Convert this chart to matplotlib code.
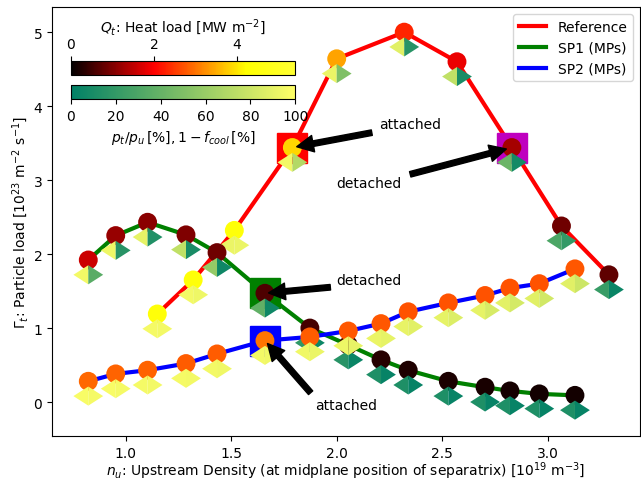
import matplotlib
matplotlib.use("Agg")
import matplotlib.pyplot as plt
import numpy as np
from matplotlib.path import Path
from matplotlib.colors import LinearSegmentedColormap, Normalize
from matplotlib.cm import ScalarMappable

# upstream density [1e19 m^-3]
ne_ref = [1.15, 1.32, 1.515, 1.79, 2.0, 2.32, 2.57, 2.83, 3.065, 3.29]
ne_sp = [0.823, 0.953, 1.104, 1.286, 1.433, 1.66, 1.873, 2.055, 2.21, 2.339,
         2.529, 2.703, 2.821, 2.96, 3.129]

# particle load [1e23 m^-2 s^-1]
gam_ref = [1.19, 1.65, 2.32, 3.44, 4.64, 5.0, 4.60, 3.44, 2.38, 1.72]
gam_sp1 = [1.92, 2.25, 2.43, 2.26, 2.02, 1.47, 1.0, 0.77, 0.57, 0.43,
           0.28, 0.2, 0.15, 0.11, 0.09]
gam_sp2 = [0.28, 0.38, 0.43, 0.52, 0.65, 0.83, 0.88, 0.96, 1.06, 1.22,
           1.34, 1.44, 1.54, 1.6, 1.8]

# heat load [MW m^-2]
q_ref = [4.4, 4.4, 4.4, 3.85, 3.4, 2.3, 1.85, 1.3, 0.88, 0.75]
q_sp1 = [1.6, 1.2, 1.09, 1.0, 0.88, 0.63, 0.55, 0.45, 0.3, 0.25,
         0.22, 0.2, 0.18, 0.16, 0.15]
q_sp2 = [2.9, 2.85, 2.85, 2.8, 2.8, 3.0, 2.8, 2.75, 2.75, 2.7,
         2.7, 2.7, 2.7, 2.7, 2.75]

# p_t/p_u [%] and 1-f_cool [%]
pt_ref = [96, 95, 92, 95, 92, 88, 75, 42, 30, 22]
fc_ref = [95, 93, 92, 70, 50, 16, 10, 8, 20, 4]
pt_sp1 = [95, 93, 90, 75, 58, 38, 19, 16, 12, 12, 12, 12, 12, 12, 12]
fc_sp1 = [35, 16, 13, 10, 6, 6, 5, 4, 3, 3, 3, 3, 3, 3, 3]
pt_sp2 = [97, 97, 96, 96, 95, 95, 94, 93, 92, 91, 90, 90, 89, 88, 88]
fc_sp2 = [96, 96, 95, 95, 94, 94, 92, 91, 90, 88, 86, 84, 83, 82, 80]

# highlighted points (index, colour)
sq_ref = [(3, 'r'), (7, 'm')]
sq_sp1 = [(5, 'g')]
sq_sp2 = [(5, 'b')]

heat = LinearSegmentedColormap.from_list(
    'heat', [(0, 'black'), (0.37, 'red'), (0.78, 'yellow'), (1, (1, 1, 0.2))])
qnorm = Normalize(0, 5.4)
pnorm = Normalize(0, 100)

# half diamonds, padded with a stray point so both halves share one scale
codes = [Path.MOVETO, Path.LINETO, Path.LINETO, Path.CLOSEPOLY, Path.MOVETO]
left_half = Path([(0, 0.64), (-1, 0), (0, -0.64), (0, 0.64), (1, 0)], codes)
right_half = Path([(0, 0.64), (1, 0), (0, -0.64), (0, 0.64), (-1, 0)], codes)

fig = plt.figure(figsize=(6.41, 4.85), dpi=100)
ax = fig.add_axes([0.0811, 0.0989, 0.9173, 0.8846])

series = [
    (ne_ref, gam_ref, q_ref, pt_ref, fc_ref, sq_ref, 'red', 'Reference'),
    (ne_sp, gam_sp1, q_sp1, pt_sp1, fc_sp1, sq_sp1, 'green', 'SP1 (MPs)'),
    (ne_sp, gam_sp2, q_sp2, pt_sp2, fc_sp2, sq_sp2, 'blue', 'SP2 (MPs)'),
]

for x, y, q, pt, fc, sq, col, lab in series:
    ax.plot(x, y, color=col, lw=3, label=lab, zorder=1)

for x, y, q, pt, fc, sq, col, lab in series:
    x = np.array(x)
    y = np.array(y)
    for i, c in sq:
        ax.plot(x[i], y[i], 's', color=c, ms=21, zorder=2)
    ax.scatter(x, y, c=q, cmap=heat, norm=qnorm, s=185, linewidths=0, zorder=3)
    ax.scatter(x, y - 0.2, c=pt, cmap='summer', norm=pnorm, marker=left_half,
               s=460, linewidths=0, zorder=3)
    ax.scatter(x, y - 0.2, c=fc, cmap='summer', norm=pnorm, marker=right_half,
               s=460, linewidths=0, zorder=3)

arrow = dict(facecolor='black', shrink=0.05)
ax.annotate('attached', xy=(ne_ref[3], gam_ref[3]), xytext=(2.2, 3.7), arrowprops=arrow, fontsize=10)
ax.annotate('detached', xy=(ne_ref[7], gam_ref[7]), xytext=(2.0, 2.9), arrowprops=arrow, fontsize=10)
ax.annotate('detached', xy=(ne_sp[5], gam_sp1[5]), xytext=(2.0, 1.6), arrowprops=arrow, fontsize=10)
ax.annotate('attached', xy=(ne_sp[5], gam_sp2[5]), xytext=(1.9, -0.1), arrowprops=arrow, fontsize=10)

ax.set_xlim(0.651, 3.437)
ax.set_ylim(-0.46, 5.34)
ax.set_xlabel(r'$n_u$: Upstream Density (at midplane position of separatrix) [10$^{19}$ m$^{-3}$]',
              labelpad=0)
ax.set_ylabel(r'$\Gamma_t$: Particle load [10$^{23}$ m$^{-2}$ s$^{-1}$]', labelpad=2)
ax.legend(loc='upper right')

cax1 = ax.inset_axes([0.032, 0.842, 0.382, 0.033])
cb1 = fig.colorbar(ScalarMappable(norm=qnorm, cmap=heat), cax=cax1, orientation='horizontal')
cb1.set_ticks([0, 2, 4])
cax1.xaxis.set_ticks_position('top')
cax1.xaxis.set_label_position('top')
cb1.set_label(r'$Q_t$: Heat load [MW m$^{-2}$]')

cax2 = ax.inset_axes([0.032, 0.786, 0.382, 0.033])
cb2 = fig.colorbar(ScalarMappable(norm=pnorm, cmap='summer'), cax=cax2, orientation='horizontal')
cb2.set_ticks([0, 20, 40, 60, 80, 100])
cb2.set_label(r'$p_t/p_u\,[\%], 1-f_{cool}\,[\%]$')

fig.savefig('out.png', dpi=100)
